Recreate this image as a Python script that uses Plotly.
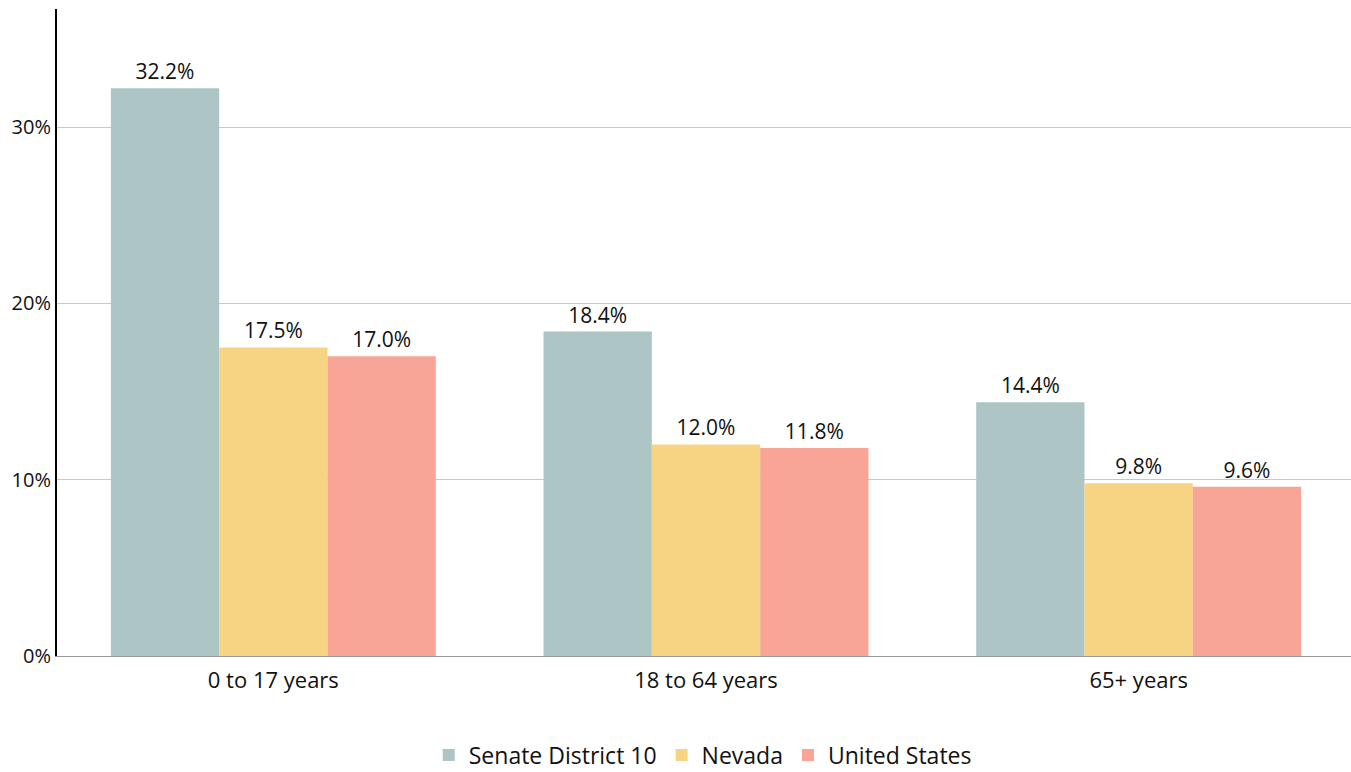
import plotly.graph_objects as go

categories = ["0 to 17 years", "18 to 64 years", "65+ years"]
series_names = ["Senate District 10", "Nevada", "United States"]
senate_district_10 = [32.2, 18.4, 14.4]
nevada = [17.5, 12.0, 9.8]
united_states = [17.0, 11.8, 9.6]
y_ticks = [0, 10, 20, 30]
y_tick_labels = ["0%", "10%", "20%", "30%"]

colors = ["#aec5c6", "#f7d384", "#f8a597"]
font_family = "'Open Sans', sans-serif"

fig = go.Figure()
for name, vals, col in zip(series_names, [senate_district_10, nevada, united_states], colors):
    fig.add_trace(go.Bar(
        x=categories, y=vals, name=name, marker=dict(color=col, line=dict(width=0)),
        text=[f"{v:.1f}%" for v in vals], textposition="outside",
        textfont=dict(size=21, color="#111111", family=font_family),
        cliponaxis=False,
    ))

fig.update_layout(
    width=1355, height=772,
    barmode="group", bargap=0.249, bargroupgap=0,
    plot_bgcolor="white", paper_bgcolor="white",
    margin=dict(l=57, r=0, t=9, b=116, autoexpand=False),
    font=dict(family=font_family, size=21, color="#111111"),
    legend=dict(orientation="h", x=0.4975, xanchor="center", y=-0.12, yanchor="top",
                font=dict(size=23), itemwidth=30, traceorder="normal"),
    showlegend=True,
)
fig.update_yaxes(range=[0, 36.7], tickvals=y_ticks, ticktext=y_tick_labels,
                 showgrid=True, gridcolor="#c8c8c8", gridwidth=1,
                 showline=True, linecolor="black", linewidth=2,
                 ticks="", zeroline=False, tickfont=dict(size=20))
fig.update_xaxes(showline=True, linecolor="#999999", linewidth=1, ticks="outside",
                 ticklen=5, tickcolor="rgba(0,0,0,0)", tickfont=dict(size=22))

fig.write_html("out.html", config={"displayModeBar": False},
               post_script="document.body.style.margin='0';document.body.style.overflow='hidden';")
